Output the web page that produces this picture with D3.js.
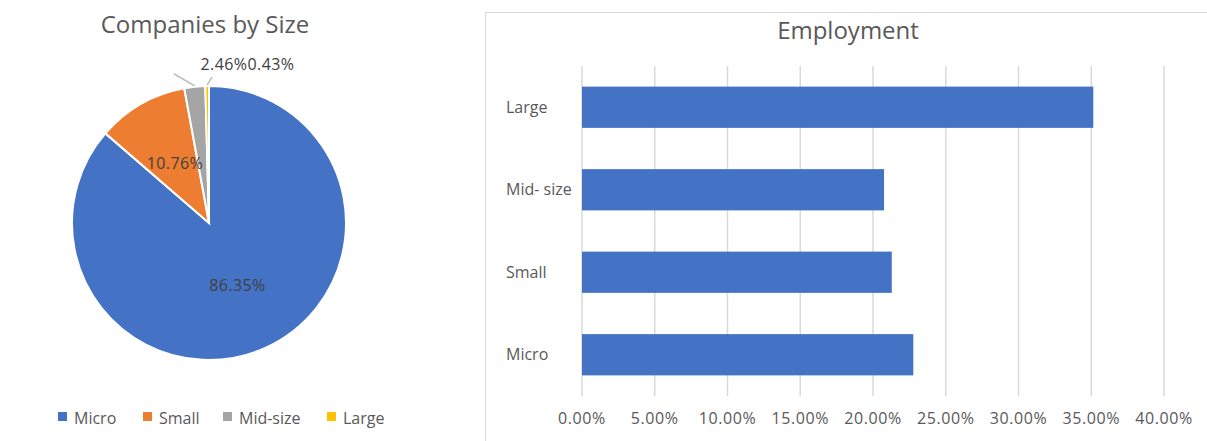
<!DOCTYPE html>
<html>
<head>
<meta charset="utf-8">
<script src="https://cdn.jsdelivr.net/npm/d3@7"></script>
<style>
  body { margin: 0; background: #fff; }
  svg { font-family: "Open Sans", "Noto Sans", sans-serif; }
</style>
</head>
<body>
<script>
// pie data
var sizeNames = ["Micro", "Small", "Mid-size", "Large"];
var sizeShares = [86.35, 10.76, 2.46, 0.43];
var sizeColors = ["#4472c4", "#ed7d31", "#a5a5a5", "#ffc000"];

// bar data
var empCategories = ["Large", "Mid- size", "Small", "Micro"];
var empValues = [0.3514, 0.2076, 0.2129, 0.2277];
var empTicks = [0, 0.05, 0.10, 0.15, 0.20, 0.25, 0.30, 0.35, 0.40];

var width = 1207, height = 441;

var svg = d3.select("body").append("svg")
    .attr("width", width)
    .attr("height", height);

// ---- left: pie ----
var cx = 209, cy = 223, r = 137;

svg.append("text")
    .attr("x", 205).attr("y", 33)
    .attr("text-anchor", "middle")
    .style("font-size", "24px")
    .style("fill", "#595959")
    .text("Companies by Size");

var pie = d3.pie().sort(null).value(d => d);
var arcs = pie(sizeShares);
var arc = d3.arc().innerRadius(0).outerRadius(r);
var labelArc = d3.arc().innerRadius(r * 0.5).outerRadius(r * 0.5);

var pieG = svg.append("g").attr("transform", "translate(" + cx + "," + cy + ")");

pieG.selectAll("path")
    .data(arcs)
    .enter().append("path")
    .attr("d", arc)
    .style("fill", (d, i) => sizeColors[i])
    .style("stroke", "#fff")
    .style("stroke-width", 2);

// labels inside for big slices
pieG.selectAll("text.inner")
    .data(arcs.filter(d => d.value > 5))
    .enter().append("text")
    .attr("class", "inner")
    .attr("transform", d => "translate(" + labelArc.centroid(d) + ")")
    .attr("dy", "0.35em")
    .attr("text-anchor", "middle")
    .style("font-size", "16px")
    .style("letter-spacing", "0.4px")
    .style("fill", "#404040")
    .text(d => d.value.toFixed(2) + "%");

// small slices get labels above with leader lines
var outerLabels = arcs.filter(d => d.value <= 5);
var leaderEnd = [[-21, -12], [5, -8]];   // offsets from slice edge
var labelX = [224, 271];

function edge(d, rr) {
    var a = (d.startAngle + d.endAngle) / 2;
    return [rr * Math.sin(a), -rr * Math.cos(a)];
}

outerLabels.forEach(function (d, i) {
    var p = edge(d, r + 1);
    pieG.append("line")
        .attr("x1", p[0]).attr("y1", p[1])
        .attr("x2", p[0] + leaderEnd[i][0]).attr("y2", p[1] + leaderEnd[i][1])
        .style("stroke", "#bfbfbf")
        .style("stroke-width", 1.5);
    svg.append("text")
        .attr("x", labelX[i]).attr("y", 70)
        .attr("text-anchor", "middle")
        .style("font-size", "16px")
        .style("letter-spacing", "0.4px")
        .style("fill", "#404040")
        .text(d.value.toFixed(2) + "%");
});

// legend
var legendX = [58, 143, 223, 327];
var legend = svg.append("g");
sizeNames.forEach(function (n, i) {
    legend.append("rect")
        .attr("x", legendX[i]).attr("y", 412)
        .attr("width", 9).attr("height", 9)
        .style("fill", sizeColors[i]);
    legend.append("text")
        .attr("x", legendX[i] + 16).attr("y", 424)
        .style("font-size", "16px")
        .style("fill", "#595959")
        .text(n);
});

// ---- right: bar chart ----
svg.append("rect")
    .attr("x", 485.5).attr("y", 12.5)
    .attr("width", 760).attr("height", 460)
    .style("fill", "none")
    .style("stroke", "#d9d9d9");

svg.append("text")
    .attr("x", 848).attr("y", 39)
    .attr("text-anchor", "middle")
    .style("font-size", "24px")
    .style("fill", "#595959")
    .text("Employment");

var x = d3.scaleLinear().domain([0, 0.40]).range([582, 1164]);
var y = d3.scaleBand().domain(empCategories).range([66, 396]).paddingInner(0.5).paddingOuter(0.25);

svg.append("g")
    .selectAll("line")
    .data(empTicks)
    .enter().append("line")
    .attr("x1", d => x(d)).attr("x2", d => x(d))
    .attr("y1", 66).attr("y2", 396)
    .style("stroke", "#d9d9d9")
    .style("stroke-width", 1.5);

svg.append("g")
    .selectAll("rect")
    .data(empValues)
    .enter().append("rect")
    .attr("x", x(0))
    .attr("y", (d, i) => y(empCategories[i]))
    .attr("width", d => x(d) - x(0))
    .attr("height", y.bandwidth())
    .style("fill", "#4472c4");

svg.append("g")
    .selectAll("text")
    .data(empTicks)
    .enter().append("text")
    .attr("x", d => x(d)).attr("y", 424)
    .attr("text-anchor", "middle")
    .style("font-size", "16px")
    .style("letter-spacing", "0.6px")
    .style("fill", "#595959")
    .text(d => (d * 100).toFixed(2) + "%");

svg.append("g")
    .selectAll("text")
    .data(empCategories)
    .enter().append("text")
    .attr("x", 506)
    .attr("y", d => y(d) + y.bandwidth() / 2)
    .attr("dy", "0.35em")
    .style("font-size", "16px")
    .style("fill", "#595959")
    .text(d => d);
</script>
</body>
</html>
